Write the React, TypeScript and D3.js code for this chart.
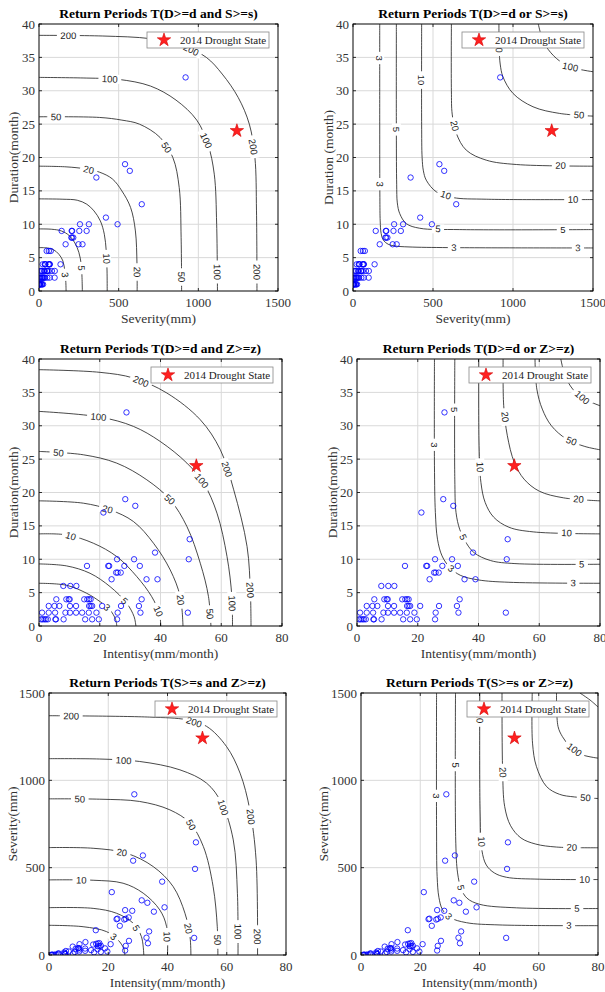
import * as d3 from 'd3';
import React from 'react';

// observed drought events (duration in months, severity in mm, intensity in mm/month)
const eventDuration = [32, 19, 18, 17, 13, 11, 10, 10, 10, 9, 9, 9, 9, 9, 8, 8, 8, 7, 7, 7, 6, 6, 6,
  4, 4, 4, 4, 4, 4, 4, 4, 4,
  3, 3, 3, 3, 3, 3, 3, 3, 3, 3, 3,
  2, 2, 2, 2, 2, 2, 2, 2, 2, 2, 2, 2,
  1, 1, 1, 1, 1, 1, 1, 1, 1, 1, 1, 1];
const eventSeverity = [920, 540, 570, 360, 645, 420, 493, 257, 313, 142, 205, 208, 253, 299, 203, 207, 215, 167, 248, 273, 48, 62, 74,
  23, 36, 39, 40, 60, 64, 66, 68, 135,
  10, 15, 20, 31, 37, 50, 51, 53, 62, 81, 99,
  2, 6, 11, 17, 20, 24, 28, 33, 38, 52, 67, 98,
  0.7, 1.2, 1.8, 2.3, 2.9, 5.4, 5.6, 8.1, 15.2, 17.5, 19.7, 25.7];
const eventIntensity = [28.8, 28.4, 31.7, 21.2, 49.6, 38.2, 49.3, 25.7, 31.3, 15.8, 22.8, 23.1, 28.1, 33.2, 25.4, 25.9, 26.9, 23.9, 35.4, 39.0, 8.0, 10.3, 12.3,
  5.7, 9.0, 9.8, 10.1, 14.9, 15.9, 16.5, 17.0, 33.8,
  3.2, 5.1, 6.7, 10.2, 12.2, 16.5, 17.0, 17.5, 20.8, 27.0, 32.9,
  1.0, 3.2, 5.3, 8.7, 10.2, 12.2, 14.2, 16.4, 18.9, 25.9, 33.4, 49.0,
  0.7, 1.2, 1.8, 2.3, 2.9, 5.4, 5.6, 8.1, 15.2, 17.5, 19.7, 25.7];

// 2014 drought state
const droughtDuration = 24;
const droughtSeverity = 1242;
const droughtIntensity = 51.8;

const severityTicks = [0, 500, 1000, 1500];
const durationTicks = [0, 5, 10, 15, 20, 25, 30, 35, 40];
const intensityTicks = [0, 20, 40, 60, 80];

// contour lines: [level, points]
type Contour = [number, number[][]];
const sdAnd: Contour[] = [
  [3, [[0, 6.5], [50, 6.45], [90, 6.2], [125, 5.5], [150, 4.5], [162, 3], [168, 1.5], [170, 0]]],
  [5, [[0, 9.3], [80, 9.25], [140, 9.0], [190, 8.3], [225, 7.2], [250, 5.8], [265, 4], [270, 2], [272, 0]]],
  [10, [[0, 13.8], [150, 13.75], [240, 13.6], [300, 13.0], [345, 12], [385, 10.5], [410, 8.5], [422, 6], [427, 3], [428, 0]]],
  [20, [[0, 18.7], [170, 18.6], [290, 18.3], [380, 17.8], [460, 16.8], [520, 15], [575, 12.5], [605, 9], [615, 4], [616, 0]]],
  [50, [[0, 26.1], [380, 26], [520, 25.6], [630, 25], [760, 23], [840, 20], [880, 15.5], [892, 8], [895, 0]]],
  [100, [[0, 32], [300, 31.9], [500, 31.7], [700, 30.7], [860, 28.6], [990, 25.6], [1060, 22], [1100, 17.5], [1115, 10], [1120, 0]]],
  [200, [[0, 38.3], [400, 38.2], [700, 37.8], [900, 36.8], [1050, 35], [1150, 32.5], [1250, 29], [1320, 25], [1355, 20], [1365, 12], [1368, 0]]],
];
const sdOr: Contour[] = [
  [3, [[167, 40], [167, 25], [168, 14], [170, 10.5], [176, 8.6], [190, 7.6], [220, 7.0], [260, 6.75], [350, 6.6], [600, 6.5], [1500, 6.45]]],
  [5, [[271, 40], [271, 23.6], [273, 16], [277, 13.2], [292, 11.6], [333, 10.1], [417, 9.4], [667, 9.2], [1500, 9.2]]],
  [10, [[429, 40], [429, 25], [432, 20], [440, 18], [458, 16.6], [521, 14.85], [625, 14], [833, 13.75], [1500, 13.7]]],
  [20, [[615, 40], [615, 30], [620, 26.5], [646, 23.6], [708, 21.1], [833, 19.6], [1021, 18.95], [1500, 18.7]]],
  [50, [[912, 40], [914, 36], [920, 34], [937, 32.1], [1000, 29.6], [1125, 27.6], [1292, 26.6], [1500, 26.2]]],
  [100, [[1158, 40], [1180, 38], [1208, 36.6], [1271, 34.85], [1354, 33.6], [1500, 32.85]]],
];
const zdAnd: Contour[] = [
  [3, [[0, 6.4], [9.1, 6.1], [15.7, 4.9], [20.1, 3.65], [23.4, 2.4], [25.2, 1.0], [25.6, 0]]],
  [5, [[0, 9.3], [9.1, 9], [16.8, 7.9], [23.4, 5.9], [28.9, 3.4], [31.3, 1.4], [31.9, 0]]],
  [10, [[0, 13.8], [9.1, 13.65], [17.9, 12.4], [25.6, 10.4], [32.2, 7.4], [37.1, 4.4], [39.6, 1.9], [40.1, 0]]],
  [20, [[0, 18.75], [14.6, 18.4], [23.4, 17.4], [31.1, 15.65], [37.7, 12.4], [43.2, 8.4], [46.5, 4.4], [47.4, 0]]],
  [50, [[0, 26.15], [14.6, 25.65], [25.6, 24.4], [35.5, 21.9], [43.2, 18.9], [48.7, 14.9], [53.1, 9.4], [55.8, 4.4], [56.6, 0]]],
  [100, [[0, 32.15], [20.1, 31.3], [31.1, 29.9], [39.9, 27.65], [48.7, 24.4], [54.2, 21.4], [58.6, 16.9], [61.9, 10.4], [63.5, 4.4], [63.7, 0]]],
  [200, [[0, 38.4], [20.1, 38], [31.1, 37.15], [42.1, 34.9], [53.1, 30.9], [59.7, 26.4], [64.1, 20.4], [68.5, 11.9], [69.6, 5], [69.8, 0]]],
];
const zdOr: Contour[] = [
  [3, [[25.5, 40], [25.5, 24], [25.8, 17], [26.5, 13], [28, 10.5], [30.5, 8.8], [34, 7.6], [40, 6.9], [50, 6.55], [80, 6.4]]],
  [5, [[32.2, 40], [32.2, 22], [32.6, 17], [33.8, 14.5], [35.5, 12.8], [38.5, 11], [44, 9.8], [52, 9.35], [80, 9.25]]],
  [10, [[40.1, 40], [40.2, 27], [40.8, 21.5], [42.2, 18.5], [45, 16.3], [50, 14.8], [58, 14.1], [80, 13.8]]],
  [20, [[48.1, 40], [48.3, 33], [49.5, 28.5], [51.8, 24.5], [55, 22], [60, 20.2], [68, 19.2], [80, 18.75]]],
  [50, [[58.6, 40], [59.2, 35.5], [61, 32.5], [64, 30], [69, 28], [75, 26.9], [80, 26.4]]],
  [100, [[67.1, 40], [68.5, 37.5], [71, 35.5], [74.5, 34.1], [80, 33]]],
];
const zsAnd: Contour[] = [
  [3, [[0, 170], [11.5, 162], [19.4, 134], [23.3, 86], [25.2, 38], [25.6, 0]]],
  [5, [[0, 271], [14.9, 267], [22.8, 239], [28.4, 182], [31.2, 105], [32, 0]]],
  [10, [[0, 430], [14.9, 428], [25, 411], [31.8, 354], [37.4, 258], [39.7, 162], [40, 0]]],
  [20, [[0, 615], [14.9, 611], [26.1, 583], [35.2, 506], [41.9, 392], [45.9, 239], [47.6, 105], [47.9, 0]]],
  [50, [[0, 894], [17.1, 892], [30.6, 879], [40.8, 831], [47.6, 755], [52.1, 621], [55.4, 392], [56.8, 162], [57, 0]]],
  [100, [[0, 1124], [17.1, 1122], [30.6, 1108], [44.2, 1060], [53.2, 984], [58.3, 869], [62.2, 659], [63.6, 353], [63.8, 0]]],
  [200, [[0, 1370], [34, 1362], [46.4, 1347], [53.2, 1309], [59.9, 1194], [64.5, 1041], [67.8, 831], [69.9, 545], [70.4, 0]]],
];
const zsOr: Contour[] = [
  [3, [[25.5, 1500], [25.5, 736], [25.7, 449], [26.3, 330], [27.5, 260], [30, 215], [35.6, 185], [46.9, 172], [80, 168]]],
  [5, [[31.9, 1500], [32, 640], [32.6, 470], [33.8, 380], [35.8, 325], [40.1, 290], [52.5, 270], [80, 266]]],
  [10, [[40.1, 1500], [40.2, 831], [40.8, 600], [42.3, 515], [45, 470], [49.1, 445], [60.3, 434], [80, 432]]],
  [20, [[47.6, 1500], [47.8, 1060], [48.5, 850], [50.5, 740], [54, 670], [59, 635], [66, 618], [80, 614]]],
  [50, [[57.8, 1500], [57.9, 1213], [59.2, 1080], [62.6, 965], [67, 920], [72, 905], [80, 896]]],
  [100, [[66, 1500], [66.5, 1309], [68, 1250], [70.5, 1195], [74, 1150], [80, 1127]]],
  [200, [[73.9, 1500], [77.3, 1460], [80, 1420]]],
];

// where the inline contour labels sit: [level, x, y] (snapped onto the line)
const sdAndLabels = [[200, 184, 38.3], [200, 960, 36.4], [200, 1343, 21.6], [200, 1364, 2.85],
  [100, 445, 31.9], [100, 1055, 22.6], [100, 1118, 2.85], [50, 107, 26], [50, 800, 21.5], [50, 894, 2.1],
  [20, 315, 18.45], [20, 616, 2.85], [10, 424, 4.85], [5, 272, 3.45], [3, 169, 2.45]];
const sdOrLabels = [[3, 167, 34.9], [3, 167, 16], [3, 631, 6.5], [3, 1406, 6.5],
  [5, 271, 24.2], [5, 531, 9.35], [5, 1312, 9.3], [10, 429, 31.6], [10, 583, 14.6], [10, 1375, 13.7],
  [20, 629, 24.7], [20, 1298, 18.75], [50, 912, 36.5], [50, 1412, 26.25], [100, 1358, 33.6]];
const zdAndLabels = [[200, 33.8, 36.9], [200, 61.3, 23.4], [200, 69.8, 5.4],
  [100, 19.6, 31.5], [100, 52.6, 21.4], [100, 63.0, 3.4], [50, 6.4, 26], [50, 43.4, 19.15], [50, 56.6, 1.8],
  [20, 22.5, 17.4], [20, 46.7, 3.9], [10, 10.4, 13.4], [10, 39.0, 2.15], [5, 28.7, 4], [3, 22.5, 2.9]];
const zdOrLabels = [[3, 25.5, 27.15], [3, 31, 8.65], [3, 71.2, 6.4], [5, 32.2, 32.4], [5, 35.3, 13.4], [5, 74, 9.25],
  [10, 40.2, 23.8], [10, 69, 13.9], [20, 48.3, 31.3], [20, 72.9, 18.9], [50, 70.3, 27.4], [100, 74, 34.15]];
const zsAndLabels = [[200, 7.5, 1370], [200, 49.2, 1347], [200, 68.7, 793], [200, 70.1, 105],
  [100, 25.2, 1124], [100, 59.7, 850], [100, 63.6, 134], [50, 10.4, 894], [50, 49.8, 764], [50, 56.8, 86],
  [20, 24.8, 611], [20, 47.3, 153], [10, 10.9, 432], [10, 39.7, 105], [5, 29.7, 157], [3, 22.2, 115]];
const zsOrLabels = [[3, 25.3, 911], [3, 28.9, 210], [3, 70.2, 170], [5, 31.7, 1087], [5, 33.6, 386], [5, 72.9, 269],
  [10, 40.1, 1357], [10, 41, 650], [10, 75.5, 434], [20, 47.6, 1045], [20, 71.2, 619], [50, 75.8, 898], [100, 71.8, 1171]];

const serif = 'Liberation Serif, Times New Roman, serif';
const sans = 'Liberation Sans, Arial, sans-serif';

const panels = [
  { id: 'p1', left: 39, right: 278, top: 24, bottom: 291, title: 'Return Periods T(D>=d and S>=s)',
    xLabel: 'Severity(mm)', yLabel: 'Duration(month)', yLabelOff: 26,
    xDomain: [0, 1500], yDomain: [0, 40], xTicks: severityTicks, yTicks: durationTicks,
    xs: eventSeverity, ys: eventDuration, starX: droughtSeverity, starY: droughtDuration, contours: sdAnd, labels: sdAndLabels },
  { id: 'p2', left: 353, right: 593, top: 24, bottom: 291, title: 'Return Periods T(D>=d or S>=s)',
    xLabel: 'Severity(mm)', yLabel: 'Duration (month)', yLabelOff: 25,
    xDomain: [0, 1500], yDomain: [0, 40], xTicks: severityTicks, yTicks: durationTicks,
    xs: eventSeverity, ys: eventDuration, starX: droughtSeverity, starY: droughtDuration, contours: sdOr, labels: sdOrLabels },
  { id: 'p3', left: 39, right: 282, top: 359, bottom: 626, title: 'Return Periods T(D>=d and Z>=z)',
    xLabel: 'Intentisy(mm/month)', yLabel: 'Duration(month)', yLabelOff: 26,
    xDomain: [0, 80], yDomain: [0, 40], xTicks: intensityTicks, yTicks: durationTicks,
    xs: eventIntensity, ys: eventDuration, starX: droughtIntensity, starY: droughtDuration, contours: zdAnd, labels: zdAndLabels },
  { id: 'p4', left: 357, right: 600, top: 359, bottom: 626, title: 'Return Periods T(D>=d or Z>=z)',
    xLabel: 'Intentisy(mm/month)', yLabel: 'Duration(month)', yLabelOff: 25,
    xDomain: [0, 80], yDomain: [0, 40], xTicks: intensityTicks, yTicks: durationTicks,
    xs: eventIntensity, ys: eventDuration, starX: droughtIntensity, starY: droughtDuration, contours: zdOr, labels: zdOrLabels },
  { id: 'p5', left: 49, right: 286, top: 693, bottom: 955, title: 'Return Periods T(S>=s and Z>=z)',
    xLabel: 'Intensity(mm/month)', yLabel: 'Severity(mm)', yLabelOff: 37,
    xDomain: [0, 80], yDomain: [0, 1500], xTicks: intensityTicks, yTicks: severityTicks,
    xs: eventIntensity, ys: eventSeverity, starX: droughtIntensity, starY: droughtSeverity, contours: zsAnd, labels: zsAndLabels },
  { id: 'p6', left: 361, right: 598, top: 693, bottom: 955, title: 'Return Periods T(S>=s or Z>=z)',
    xLabel: 'Intensity(mm/month)', yLabel: 'Severity(mm)', yLabelOff: 38,
    xDomain: [0, 80], yDomain: [0, 1500], xTicks: intensityTicks, yTicks: severityTicks,
    xs: eventIntensity, ys: eventSeverity, starX: droughtIntensity, starY: droughtSeverity, contours: zsOr, labels: zsOrLabels },
];

// nearest point on the contour polyline (pixel space) and its direction
function snap(P: number[][], px: number, py: number) {
  let best = { d: Infinity, x: px, y: py, a: 0 };
  for (let i = 0; i < P.length - 1; i++) {
    const [x1, y1] = P[i], [x2, y2] = P[i + 1];
    const dx = x2 - x1, dy = y2 - y1, L2 = dx * dx + dy * dy;
    let t = L2 ? ((px - x1) * dx + (py - y1) * dy) / L2 : 0;
    t = Math.max(0, Math.min(1, t));
    const qx = x1 + t * dx, qy = y1 + t * dy;
    const d = (qx - px) ** 2 + (qy - py) ** 2;
    if (d < best.d) best = { d, x: qx, y: qy, a: Math.atan2(dy, dx) * 180 / Math.PI };
  }
  let a = best.a;
  if (a > 90) a -= 180;
  if (a <= -90) a += 180;
  return { x: best.x, y: best.y, a };
}

const starPath = d3.symbol(d3.symbolStar, 56)()!;

const Panel = ({ p }: { p: any }) => {
  const x = d3.scaleLinear().domain(p.xDomain).range([p.left, p.right]);
  const y = d3.scaleLinear().domain(p.yDomain).range([p.bottom, p.top]);
  const line = d3.line<number[]>().x(d => x(d[0])).y(d => y(d[1])).curve(d3.curveCatmullRom.alpha(0.5));
  const cx = (p.left + p.right) / 2, cy = (p.top + p.bottom) / 2;
  const lw = 122, lh = 16;
  const lx = p.right - 9 - lw, ly = p.top + 8;

  return (
    <g>
      <defs>
        <clipPath id={`clip-${p.id}`}>
          <rect x={p.left} y={p.top} width={p.right - p.left} height={p.bottom - p.top} />
        </clipPath>
      </defs>
      <rect x={p.left} y={p.top} width={p.right - p.left} height={p.bottom - p.top} fill="white" />
      {/* grid */}
      {p.xTicks.map((t: number) => (
        <line key={`gx${t}`} x1={x(t)} x2={x(t)} y1={p.top} y2={p.bottom} stroke="#d9d9d9" strokeWidth={1} />
      ))}
      {p.yTicks.map((t: number) => (
        <line key={`gy${t}`} x1={p.left} x2={p.right} y1={y(t)} y2={y(t)} stroke="#d9d9d9" strokeWidth={1} />
      ))}
      <g clipPath={`url(#clip-${p.id})`}>
        {p.contours.map(([lvl, pts]: Contour) => (
          <path key={`c${lvl}`} d={line(pts)!} fill="none" stroke="#1a1a1a" strokeWidth={0.8} />
        ))}
        {p.labels.map(([lvl, lx0, ly0]: number[], i: number) => {
          const c = p.contours.find((k: Contour) => k[0] === lvl);
          const P = c[1].map((d: number[]) => [x(d[0]), y(d[1])]);
          const s = snap(P, x(lx0), y(ly0));
          const txt = String(lvl);
          const w = txt.length * 5.3 + 7;
          return (
            <g key={`l${i}`} transform={`translate(${s.x},${s.y}) rotate(${s.a})`}>
              <rect x={-w / 2} y={-4.5} width={w} height={9} fill="white" />
              <text textAnchor="middle" dy="0.35em" fontSize={9.5} fontFamily={sans} fill="#222">{txt}</text>
            </g>
          );
        })}
        {p.xs.map((v: number, i: number) => (
          <circle key={`pt${i}`} cx={x(v)} cy={y(p.ys[i])} r={2.7} fill="none" stroke="#0000ff" strokeWidth={0.8} />
        ))}
        <path d={starPath} transform={`translate(${x(p.starX)},${y(p.starY)})`} fill="#ff2020" stroke="#d40000" strokeWidth={0.6} />
      </g>
      {/* ticks */}
      {p.xTicks.map((t: number) => (
        <g key={`tx${t}`}>
          <line x1={x(t)} x2={x(t)} y1={p.bottom} y2={p.bottom - 3} stroke="#000" strokeWidth={0.8} />
          <line x1={x(t)} x2={x(t)} y1={p.top} y2={p.top + 3} stroke="#000" strokeWidth={0.8} />
          <text x={x(t)} y={p.bottom + 15.5} textAnchor="middle" fontSize={13} fontFamily={serif} fill="#333">{t}</text>
        </g>
      ))}
      {p.yTicks.map((t: number) => (
        <g key={`ty${t}`}>
          <line x1={p.left} x2={p.left + 3} y1={y(t)} y2={y(t)} stroke="#000" strokeWidth={0.8} />
          <line x1={p.right} x2={p.right - 3} y1={y(t)} y2={y(t)} stroke="#000" strokeWidth={0.8} />
          <text x={p.left - 4} y={y(t)} dy="0.35em" textAnchor="end" fontSize={13} fontFamily={serif} fill="#333">{t}</text>
        </g>
      ))}
      <rect x={p.left} y={p.top} width={p.right - p.left} height={p.bottom - p.top} fill="none" stroke="#000" strokeWidth={0.9} />
      {/* legend */}
      <rect x={lx} y={ly} width={lw} height={lh} fill="white" stroke="#888" strokeWidth={0.8} />
      <path d={starPath} transform={`translate(${lx + 17},${ly + lh / 2})`} fill="#ff2020" stroke="#d40000" strokeWidth={0.6} />
      <text x={lx + 33} y={ly + lh / 2} dy="0.35em" fontSize={11} fontFamily={serif} fill="#222">2014 Drought State</text>
      {/* titles */}
      <text x={cx} y={p.top - 6} textAnchor="middle" fontSize={13.5} fontWeight="bold" fontFamily={serif} fill="#000">{p.title}</text>
      <text x={cx} y={p.bottom + 32} textAnchor="middle" fontSize={13.5} fontFamily={serif} fill="#333">{p.xLabel}</text>
      <text transform={`translate(${p.left - p.yLabelOff},${cy}) rotate(-90)`} textAnchor="middle" dy="0.35em" fontSize={13.5} fontFamily={serif} fill="#333">{p.yLabel}</text>
    </g>
  );
};

export default function App() {
  return (
    <svg width={605} height={992} style={{ position: 'absolute', left: 0, top: 0, background: 'white' }}>
      <rect width={605} height={992} fill="white" />
      {panels.map(p => <Panel key={p.id} p={p} />)}
    </svg>
  );
}
